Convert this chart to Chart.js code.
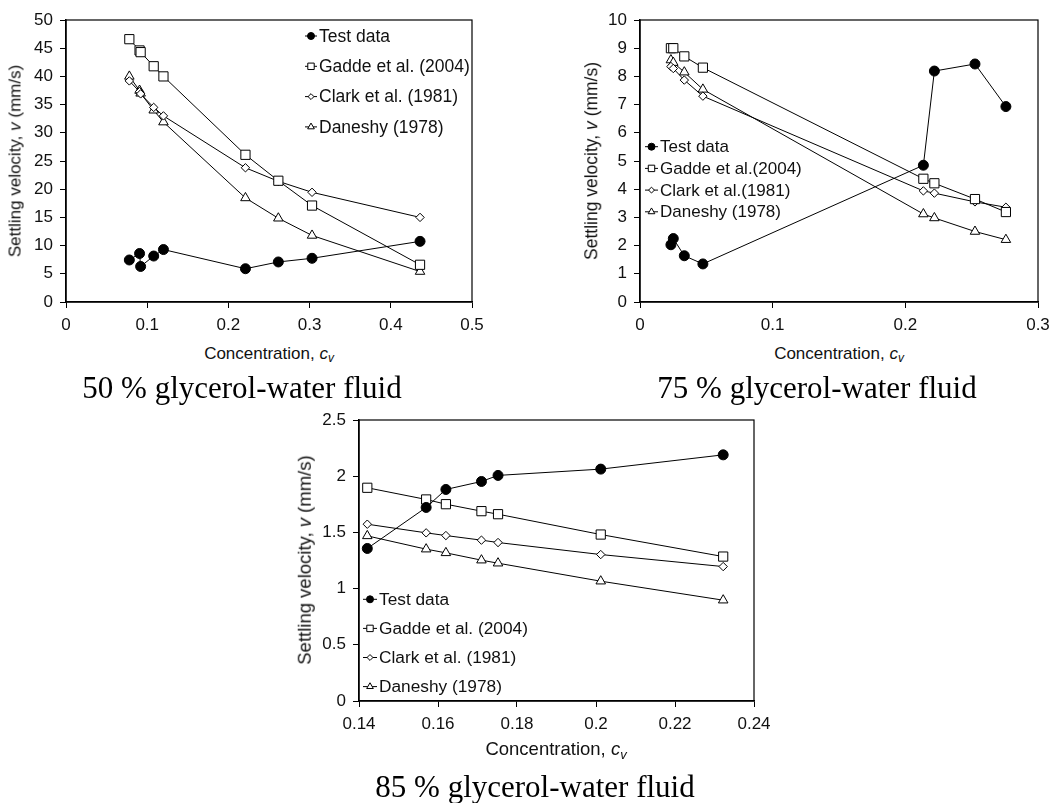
<!DOCTYPE html>
<html>
<head>
<meta charset="utf-8">
<script src="https://cdn.jsdelivr.net/npm/chart.js@4.4.1/dist/chart.umd.min.js"></script>
<style>
  html, body { margin: 0; padding: 0; background: #fff; }
  body { position: relative; width: 1063px; height: 803px; overflow: hidden; }
  canvas { position: absolute; }
  .lbl { position: absolute; white-space: nowrap; color: #111;
         font-family: "Liberation Sans", Arial, sans-serif; line-height: 1; }
  .xt { transform: translate(-50%, -50%); }
  .yt { transform: translate(-50%, -50%) rotate(-90deg); }
  .lbl sub { font-size: 0.7em; vertical-align: -0.3em; line-height: 0; }
  .cap { position: absolute; white-space: nowrap; color: #000; text-align: center;
         font-family: "Liberation Serif", "Times New Roman", serif; font-size: 31px;
         line-height: 1; transform: translateX(-50%); }
</style>
</head>
<body>
<canvas id="c50" width="500" height="340" style="left:0px;top:0px"></canvas>
<canvas id="c75" width="543" height="340" style="left:520px;top:0px"></canvas>
<canvas id="c85" width="520" height="340" style="left:280px;top:400px"></canvas>

<div class="lbl yt" style="left:15px;top:161px;font-size:17px">Settling velocity, <i>v</i> (mm/s)</div>
<div class="lbl xt" style="left:269px;top:353px;font-size:17px">Concentration, <i>c</i><sub><i>v</i></sub></div>
<div class="cap" style="left:242px;top:372px">50 % glycerol-water fluid</div>

<div class="lbl yt" style="left:592px;top:161px;font-size:17.5px">Settling velocity, <i>v</i> (mm/s)</div>
<div class="lbl xt" style="left:839px;top:353px;font-size:17px">Concentration, <i>c</i><sub><i>v</i></sub></div>
<div class="cap" style="left:817px;top:372px">75 % glycerol-water fluid</div>

<div class="lbl yt" style="left:305px;top:560px;font-size:18.5px">Settling velocity, <i>v</i> (mm/s)</div>
<div class="lbl xt" style="left:556px;top:749px;font-size:18.5px">Concentration, <i>c</i><sub><i>v</i></sub></div>
<div class="cap" style="left:535px;top:771px">85 % glycerol-water fluid</div>

<script>
// ---- 50 % glycerol-water fluid ----
const cv50      = [0.078, 0.0906, 0.0919, 0.108, 0.120, 0.221, 0.2615, 0.303, 0.436];
const test50    = [7.45, 8.6, 6.3, 8.15, 9.3, 5.9, 7.1, 7.75, 10.75];
const gadde50   = [46.6, 44.6, 44.3, 41.8, 40.0, 26.1, 21.5, 17.1, 6.6];
const clark50   = [39.2, 37.3, 36.9, 34.5, 33.0, 23.8, 21.4, 19.45, 15.0];
const daneshy50 = [40.0, 37.5, 37.0, 34.0, 31.9, 18.45, 14.85, 11.8, 5.4];
const xTicks50  = [0, 0.1, 0.2, 0.3, 0.4, 0.5];
const yTicks50  = [0, 5, 10, 15, 20, 25, 30, 35, 40, 45, 50];
const names50   = ['Test data', 'Gadde et al. (2004)', 'Clark et al. (1981)', 'Daneshy (1978)'];

// ---- 75 % glycerol-water fluid ----
const cv75      = [0.0233, 0.0251, 0.0334, 0.0474, 0.2136, 0.2219, 0.2525, 0.2758];
const test75    = [2.03, 2.25, 1.64, 1.35, 4.85, 8.19, 8.44, 6.93];
const gadde75   = [9.0, 9.0, 8.71, 8.31, 4.37, 4.21, 3.65, 3.19];
const clark75   = [8.35, 8.28, 7.87, 7.30, 3.94, 3.86, 3.55, 3.36];
const daneshy75 = [8.58, 8.49, 8.15, 7.54, 3.12, 2.98, 2.50, 2.21];
const xTicks75  = [0, 0.1, 0.2, 0.3];
const yTicks75  = [0, 1, 2, 3, 4, 5, 6, 7, 8, 9, 10];
const names75   = ['Test data', 'Gadde et al.(2004)', 'Clark et al.(1981)', 'Daneshy (1978)'];

// ---- 85 % glycerol-water fluid ----
const cv85      = [0.1421, 0.157, 0.162, 0.171, 0.1752, 0.2012, 0.2322];
const test85    = [1.357, 1.722, 1.882, 1.953, 2.007, 2.063, 2.19];
const gadde85   = [1.897, 1.793, 1.751, 1.689, 1.662, 1.481, 1.285];
const clark85   = [1.573, 1.496, 1.472, 1.431, 1.41, 1.303, 1.196];
const daneshy85 = [1.469, 1.351, 1.318, 1.253, 1.226, 1.066, 0.897];
const xTicks85  = [0.14, 0.16, 0.18, 0.2, 0.22, 0.24];
const yTicks85  = [0, 0.5, 1, 1.5, 2, 2.5];
const names85   = ['Test data', 'Gadde et al. (2004)', 'Clark et al. (1981)', 'Daneshy (1978)'];

const FONT = '"Liberation Sans", Arial, sans-serif';
const INK = '#111';

// marker look for each series, in legend order
const MARKERS = [
  { style: 'circle',   radius: 5,   fill: '#000' },
  { style: 'rect',     radius: 6.5, fill: '#fff' },
  { style: 'rectRot',  radius: 4.2, fill: '#fff' },
  { style: 'triangle', radius: 5.5, fill: '#fff' }
];

function drawMarker(ctx, style, x, y, r) {
  ctx.beginPath();
  if (style === 'circle') {
    ctx.arc(x, y, r, 0, Math.PI * 2);
  } else if (style === 'rect') {
    const s = r * Math.SQRT1_2;
    ctx.rect(x - s, y - s, 2 * s, 2 * s);
  } else if (style === 'rectRot') {
    ctx.moveTo(x - r, y); ctx.lineTo(x, y - r); ctx.lineTo(x + r, y); ctx.lineTo(x, y + r);
    ctx.closePath();
  } else if (style === 'triangle') {
    for (let k = 0; k < 3; k++) {
      const a = k * 2 * Math.PI / 3;
      const px = x + Math.sin(a) * r, py = y - Math.cos(a) * r;
      k ? ctx.lineTo(px, py) : ctx.moveTo(px, py);
    }
    ctx.closePath();
  }
  ctx.fill();
  ctx.stroke();
}

// closes the plot box on the top and right
const frameBox = {
  id: 'frameBox',
  beforeDatasetsDraw(chart) {
    const a = chart.chartArea, ctx = chart.ctx;
    ctx.save();
    ctx.strokeStyle = '#000';
    ctx.lineWidth = 1.2;
    ctx.strokeRect(a.left, a.top, a.right - a.left, a.bottom - a.top);
    ctx.restore();
  }
};

// legend drawn inside the plotting area
const innerLegend = {
  id: 'innerLegend',
  afterDraw(chart, args, opts) {
    const a = chart.chartArea, ctx = chart.ctx;
    ctx.save();
    ctx.font = opts.fontSize + 'px ' + FONT;
    ctx.textBaseline = 'middle';
    ctx.textAlign = 'left';
    chart.data.datasets.forEach((ds, i) => {
      const x = a.left + opts.dx, y = a.top + opts.dy + i * opts.gap;
      ctx.strokeStyle = '#000';
      ctx.lineWidth = 1;
      ctx.beginPath(); ctx.moveTo(x, y); ctx.lineTo(x + opts.len, y); ctx.stroke();
      ctx.fillStyle = ds.pointBackgroundColor;
      drawMarker(ctx, ds.pointStyle, x + opts.len / 2, y, ds.pointRadius * 0.7);
      ctx.fillStyle = INK;
      ctx.fillText(ds.label, x + opts.len + 2, y + 1);
    });
    ctx.restore();
  }
};

function buildChart(id, cv, series, names, xr, yr, xTicks, yTicks, pad, legend) {
  const datasets = series.map((vals, i) => ({
    label: names[i],
    data: cv.map((c, k) => ({ x: c, y: vals[k] })),
    showLine: true,
    borderColor: '#000',
    borderWidth: 1,
    pointStyle: MARKERS[i].style,
    pointRadius: MARKERS[i].radius,
    pointBackgroundColor: MARKERS[i].fill,
    pointBorderColor: '#000',
    pointBorderWidth: 1,
    order: i === 0 ? 0 : 1
  }));
  const axis = (min, max, ticks, fit) => ({
    type: 'linear', min, max,
    afterBuildTicks: s => { s.ticks = ticks.map(v => ({ value: v })); },
    afterFit: fit,
    ticks: { callback: v => String(v), color: INK, font: { family: FONT, size: 17 },
             padding: 7, autoSkip: false, maxRotation: 0 },
    grid: { drawOnChartArea: false, drawTicks: true, tickLength: 6, color: '#000', lineWidth: 1 },
    border: { display: true, color: '#000', width: 1.5 }
  });
  return new Chart(document.getElementById(id), {
    type: 'scatter',
    data: { datasets },
    options: {
      responsive: false,
      animation: false,
      events: [],
      layout: { padding: pad },
      scales: {
        x: axis(xr[0], xr[1], xTicks, s => { s.height = 30; }),
        y: axis(yr[0], yr[1], yTicks, s => { s.width = 60; })
      },
      plugins: {
        legend: { display: false },
        tooltip: { enabled: false },
        innerLegend: legend
      }
    },
    plugins: [frameBox, innerLegend]
  });
}

buildChart('c50', cv50, [test50, gadde50, clark50, daneshy50], names50,
  [0, 0.5], [0, 50], xTicks50, yTicks50,
  { left: 6, top: 20, right: 28, bottom: 8 },
  { dx: 239, dy: 16, gap: 30.3, len: 12, fontSize: 17.5 });

buildChart('c75', cv75, [test75, gadde75, clark75, daneshy75], names75,
  [0, 0.3], [0, 10], xTicks75, yTicks75,
  { left: 60, top: 20, right: 25, bottom: 8 },
  { dx: 5, dy: 126.7, gap: 21.7, len: 13, fontSize: 17 });

buildChart('c85', cv85, [test85, gadde85, clark85, daneshy85], names85,
  [0.14, 0.24], [0, 2.5], xTicks85, yTicks85,
  { left: 19, top: 20, right: 46, bottom: 9 },
  { dx: 4, dy: 179.3, gap: 29.1, len: 14, fontSize: 17.3 });
</script>
</body>
</html>
